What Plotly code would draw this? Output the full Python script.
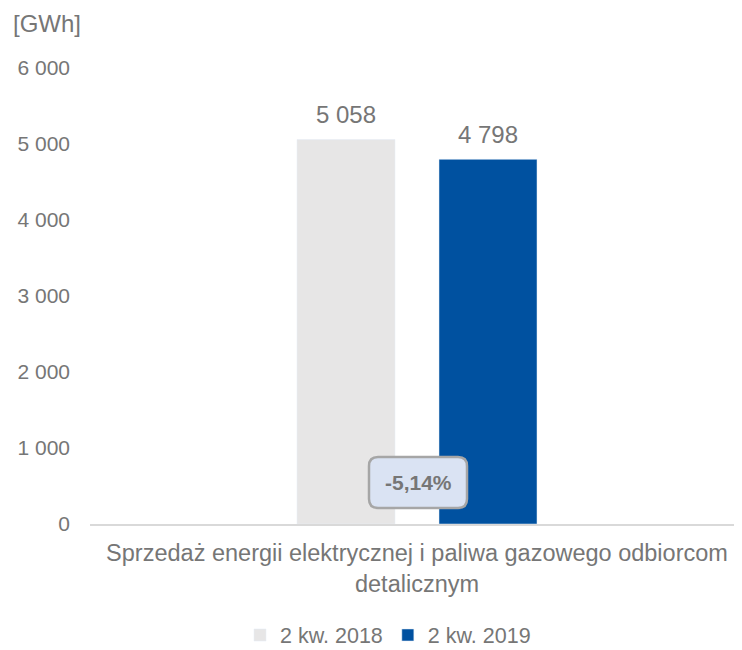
import plotly.graph_objects as go

categories = ["Sprzedaż energii elektrycznej i paliwa gazowego odbiorcom<br>detalicznym"]
series_names = ["2 kw. 2018", "2 kw. 2019"]
values_2018 = [5058]
values_2019 = [4798]
labels_2018 = ["5 058"]
labels_2019 = ["4 798"]
tick_vals = [0, 1000, 2000, 3000, 4000, 5000, 6000]
tick_text = ["0", "1 000", "2 000", "3 000", "4 000", "5 000", "6 000"]
change_label = "-5,14%"

FONT = "Liberation Sans, Arial, sans-serif"
TXT = "#767676"

W, H = 726, 642
L, R, T, B = 82, 0, 60, 126
PW, PH = W - L - R, H - T - B
U = 652.0  # pixels per category unit
xa = -327 / U
xb = xa + PW / U

fig = go.Figure()
fig.add_trace(go.Bar(name=series_names[0], x=categories, y=values_2018,
                     marker_color="#E7E6E6"))
fig.add_trace(go.Bar(name=series_names[1], x=categories, y=values_2019,
                     marker_color="#0051A0"))

# data labels above the bars
for vals, labs, shift in ((values_2018, labels_2018, -71), (values_2019, labels_2019, 71)):
    for c, v, t in zip(categories, vals, labs):
        fig.add_annotation(x=c, y=v, text=t, showarrow=False, xshift=shift, yshift=25,
                           xanchor="center", yanchor="middle",
                           font=dict(size=24, color=TXT, family=FONT))

# rounded box for the change label (paper coords)
x0, x1 = (361 - L) / PW, (459 - L) / PW
y0, y1 = (T + PH - 500) / PH, (T + PH - 449) / PH
rx, ry = 9 / PW, 9 / PH
path = (f"M {x0+rx},{y0} L {x1-rx},{y0} Q {x1},{y0} {x1},{y0+ry} "
        f"L {x1},{y1-ry} Q {x1},{y1} {x1-rx},{y1} L {x0+rx},{y1} "
        f"Q {x0},{y1} {x0},{y1-ry} L {x0},{y0+ry} Q {x0},{y0} {x0+rx},{y0} Z")
fig.add_shape(type="path", path=path, xref="paper", yref="paper",
              fillcolor="#DAE3F3", line=dict(color="#A6A6A6", width=2.5))
fig.add_annotation(text=f"<b>{change_label}</b>", xref="paper", yref="paper",
                   x=(x0 + x1) / 2, y=(y0 + y1) / 2, xanchor="center", yanchor="middle",
                   showarrow=False, font=dict(size=21, color=TXT, family=FONT))

fig.add_annotation(text="[GWh]", xref="paper", yref="paper", x=(3 - L) / PW, y=1 + (T - 16) / PH,
                   xanchor="left", yanchor="middle", showarrow=False,
                   font=dict(size=24, color=TXT, family=FONT))

fig.update_layout(
    width=W, height=H,
    margin=dict(l=L, r=R, t=T, b=B, autoexpand=False),
    paper_bgcolor="white", plot_bgcolor="white",
    font=dict(family=FONT, color=TXT, size=21),
    barmode="group", bargap=1 - 284 / U, bargroupgap=44 / 142,
    showlegend=True,
    legend=dict(orientation="h", x=(380 - L) / PW, xanchor="center", y=-(627 - (T + PH)) / PH,
                yanchor="middle", font=dict(size=21.5, color=TXT), itemwidth=30),
)
fig.update_yaxes(range=[0, 6000], tickvals=tick_vals, ticktext=tick_text,
                 showgrid=False, zeroline=False, showline=False, automargin=False,
                 tickfont=dict(size=21, color=TXT), ticks="", ticklabelstandoff=19)
fig.update_xaxes(range=[xa, xb], showline=True, linecolor="#D9D9D9", linewidth=1.5, automargin=False,
                 tickfont=dict(size=23.5, color=TXT), ticks="", ticklabelstandoff=7)

fig.write_html("out.html")
